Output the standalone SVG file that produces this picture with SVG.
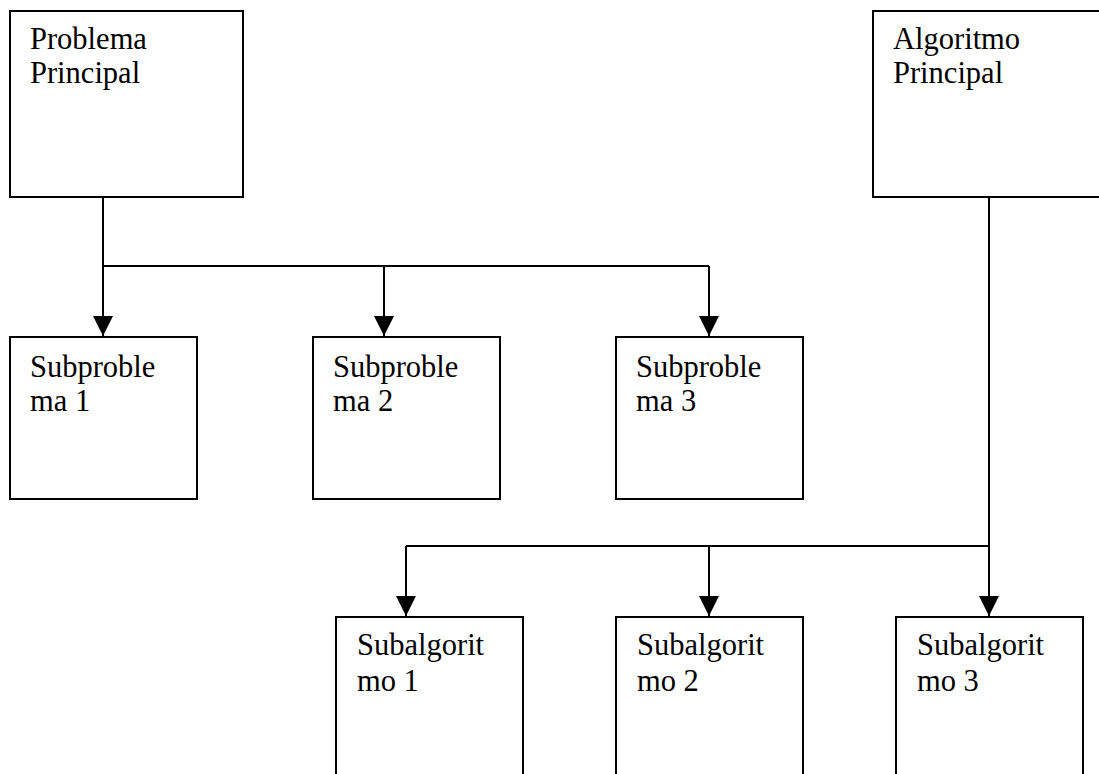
<svg xmlns="http://www.w3.org/2000/svg" width="1099" height="774" viewBox="0 0 1099 774">
  <defs>
    <style>
      .box { fill: #ffffff; stroke: #000000; stroke-width: 2; }
      .lbl { font-family: "Liberation Serif", "Times New Roman", serif; font-size: 30.5px; fill: #000000; }
      .wire { fill: none; stroke: #000000; stroke-width: 2; }
    </style>
    <marker id="arrow" viewBox="0 0 20 20" refX="20" refY="10" markerWidth="20" markerHeight="20" markerUnits="userSpaceOnUse" orient="auto">
      <path d="M0,0 L20,10 L0,20 Z" fill="#000000"/>
    </marker>
  </defs>
  <rect width="1099" height="774" fill="#ffffff"/>

  <!-- connectors -->
  <g id="connectors">
    <path class="wire" d="M103,197 V266 H709"/>
    <path class="wire" d="M103,266 V336" marker-end="url(#arrow)"/>
    <path class="wire" d="M384,266 V336" marker-end="url(#arrow)"/>
    <path class="wire" d="M709,266 V336" marker-end="url(#arrow)"/>
    <path class="wire" d="M989,197 V546 H406"/>
    <path class="wire" d="M406,546 V616" marker-end="url(#arrow)"/>
    <path class="wire" d="M709,546 V616" marker-end="url(#arrow)"/>
    <path class="wire" d="M989,546 V616" marker-end="url(#arrow)"/>
  </g>

  <g id="problema-principal">
    <rect class="box" x="10" y="11" width="233" height="186"/>
    <text class="lbl" x="30" y="49">Problema</text>
    <text class="lbl" x="30" y="83">Principal</text>
  </g>

  <g id="algoritmo-principal">
    <rect class="box" x="873" y="11" width="240" height="186"/>
    <text class="lbl" x="893" y="49">Algoritmo</text>
    <text class="lbl" x="893" y="83">Principal</text>
  </g>

  <g id="subproblema-1">
    <rect class="box" x="10" y="337" width="187" height="162"/>
    <text class="lbl" x="30" y="377">Subproble</text>
    <text class="lbl" x="30" y="411">ma 1</text>
  </g>

  <g id="subproblema-2">
    <rect class="box" x="313" y="337" width="187" height="162"/>
    <text class="lbl" x="333" y="377">Subproble</text>
    <text class="lbl" x="333" y="411">ma 2</text>
  </g>

  <g id="subproblema-3">
    <rect class="box" x="616" y="337" width="187" height="162"/>
    <text class="lbl" x="636" y="377">Subproble</text>
    <text class="lbl" x="636" y="411">ma 3</text>
  </g>

  <g id="subalgoritmo-1">
    <rect class="box" x="336" y="617" width="187" height="170"/>
    <text class="lbl" x="357" y="655">Subalgorit</text>
    <text class="lbl" x="357" y="691">mo 1</text>
  </g>

  <g id="subalgoritmo-2">
    <rect class="box" x="616" y="617" width="187" height="170"/>
    <text class="lbl" x="637" y="655">Subalgorit</text>
    <text class="lbl" x="637" y="691">mo 2</text>
  </g>

  <g id="subalgoritmo-3">
    <rect class="box" x="896" y="617" width="187" height="170"/>
    <text class="lbl" x="917" y="655">Subalgorit</text>
    <text class="lbl" x="917" y="691">mo 3</text>
  </g>
</svg>
